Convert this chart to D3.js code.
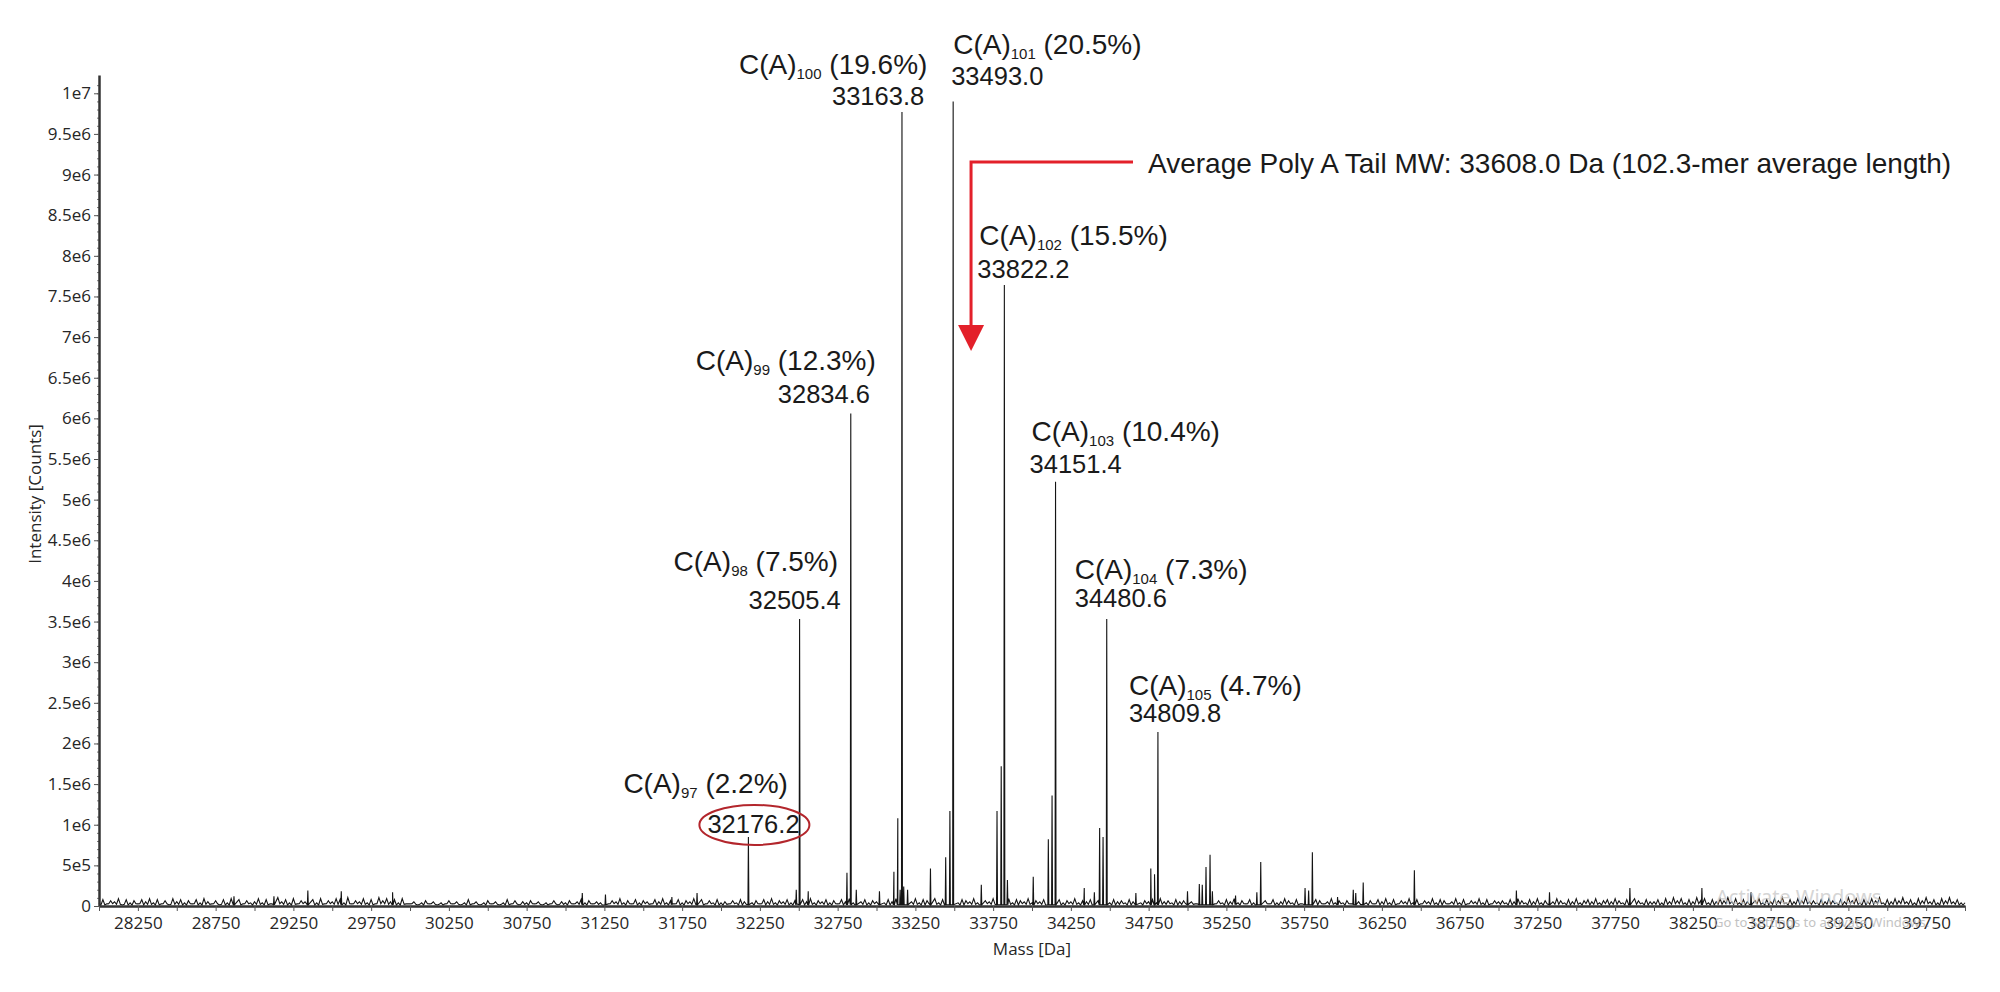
<!DOCTYPE html>
<html>
<head>
<meta charset="utf-8">
<script src="https://cdn.jsdelivr.net/npm/d3@7"></script>
<style>
body { margin: 0; background: #fff; }
svg { display: block; }
</style>
</head>
<body>
<div id="chart"></div>
<script>
// labelled C(A)n peaks
const peakLength = [97, 98, 99, 100, 101, 102, 103, 104, 105]
const peakMass = [32176.2, 32505.4, 32834.6, 33163.8, 33493.0, 33822.2, 34151.4, 34480.6, 34809.8]
const peakShare = [2.2, 7.5, 12.3, 19.6, 20.5, 15.5, 10.4, 7.3, 4.7]
const peakIntensity = [0.85, 3.53, 6.06, 9.77, 9.9, 7.64, 5.22, 3.53, 2.14] // x 1e6 counts

// smaller side peaks
const sideMass = [28868, 29125, 29343, 29558, 29888, 31108, 31257, 31684, 31846,
    32484, 32561, 32810, 32870, 33019, 33112, 33137, 33152, 33175, 33200,
    33347, 33445, 33472, 33674, 33775, 33802, 33842, 34008, 34105, 34129,
    34336, 34401, 34435, 34457, 34668, 34764, 34788, 35000, 35076, 35095, 35119, 35145, 35160,
    35309, 35446, 35471, 35756, 35779, 35803, 35965, 36066, 36082, 36130, 36459,
    37115, 37328, 37845, 38308, 38624]
const sideIntensity = [0.12, 0.12, 0.19, 0.18, 0.17, 0.16, 0.14, 0.11, 0.16,
    0.20, 0.18, 0.41, 0.20, 0.18, 0.42, 1.08, 0.20, 0.24, 0.20,
    0.46, 0.60, 1.17, 0.26, 1.17, 1.72, 0.32, 0.36, 0.82, 1.36,
    0.22, 0.17, 0.96, 0.85, 0.16, 0.46, 0.39, 0.18, 0.27, 0.26, 0.48, 0.63, 0.18,
    0.13, 0.17, 0.54, 0.22, 0.19, 0.66, 0.11, 0.20, 0.16, 0.29, 0.44,
    0.19, 0.17, 0.22, 0.22, 0.17] // x 1e6 counts

// baseline noise, one row per 1000 Da from 28000, each digit x 1.3e4 counts
const noiseRows = [
    "3625471635264736251746352637425163746253",
    "4736258463725486372547638254736285746372",
    "2413524132524136241352413625143524132514",
    "3524635243625473526354264735263547362536",
    "3425364735264735463526473546352647354635",
    "4536475364736547365473654736547364736547",
    "3546354635473546354736453647354637453645",
    "3425364253647352634752634753624736524735",
    "3526473526473625473625473652473625473625",
    "4536475364735647536473564735647536475364",
    "4637485736485736475847364857364758364758",
    "4536475364857364758364758463758463758463"
]

const avgMass = 33608.0
const avgLength = 102.3

const xTickLabels = [28250, 28750, 29250, 29750, 30250, 30750, 31250, 31750, 32250, 32750,
    33250, 33750, 34250, 34750, 35250, 35750, 36250, 36750, 37250, 37750, 38250, 38750, 39250, 39750]

// label placement for each peak (px): number left/baseline vs peak top, label vs number
const numDx = [-41, -51, -73, -70, -2, -27, -26, -32, -29]
const numDy = [-4, -10, -10, -7, -16, -7, -9, -12, -10]
const labDx = [-84, -75, -82, -93, 2, 2, 2, 0, 0]
const labDy = [-40, -38, -33, -31, -31, -33, -32, -28, -27]

const width = 2000, height = 992
const svg = d3.select("#chart").append("svg")
    .attr("width", width)
    .attr("height", height)

const x = d3.scaleLinear().domain([28000, 40000]).range([99, 1965])
const y = d3.scaleLinear().domain([0, 1.0225e7]).range([906, 75])

// --- spectrum trace
let spikes = []
peakMass.forEach((m, i) => spikes.push({m: m, h: peakIntensity[i] * 1e6, hw: 3}))
sideMass.forEach((m, i) => spikes.push({m: m, h: sideIntensity[i] * 1e6, hw: 3}))

// each noise sample drawn as a little spike off a low floor
let pts = []
noiseRows.forEach((row, r) => {
    const step = 1000 / row.length
    row.split('').forEach((c, j) => {
        const m = 28000 + r * 1000 + j * step
        if (spikes.some(s => Math.abs(s.m - m) < 8)) return
        pts.push([m, +c * 1.3e4])
        pts.push([m + step / 2, 1.2e4 + (+c % 3) * 0.8e4])
    })
})
pts.push([40000, 4e4])
spikes.forEach(s => {
    pts.push([s.m - s.hw, 1.5e4], [s.m, s.h], [s.m + s.hw, 1.5e4])
})
pts.sort((a, b) => a[0] - b[0])

const line = d3.line()
    .x(d => x(d[0]))
    .y(d => y(d[1]))

svg.append("path")
    .datum(pts)
    .attr("fill", "none")
    .attr("stroke", "#141414")
    .attr("stroke-width", 1.1)
    .attr("d", line)

// --- axes
const tickFont = "'Open Sans', 'Noto Sans', sans-serif"

const yFmt = v => {
    if (v === 0) return "0"
    const e = Math.floor(Math.log10(v) + 1e-9)
    const mant = +(v / 10 ** e).toFixed(1)
    return mant + "e" + e
}

const yMinor = svg.append("g")
    .attr("transform", "translate(99,0)")
    .call(d3.axisLeft(y).tickValues(d3.range(0, 1.02e7, 1e5)).tickSize(2).tickFormat(""))
yMinor.select(".domain").remove()
yMinor.selectAll("line").attr("stroke", "#777")

const yAxis = svg.append("g")
    .attr("transform", "translate(99,0)")
    .call(d3.axisLeft(y).tickValues(d3.range(0, 1.0e7 + 1, 5e5)).tickSize(5).tickSizeOuter(0).tickPadding(3).tickFormat(yFmt))
yAxis.select(".domain").attr("stroke", "#333").attr("stroke-width", 2.5)
yAxis.selectAll("line").attr("stroke", "#555")
yAxis.selectAll("text")
    .attr("font-family", tickFont)
    .attr("font-size", 17)
    .attr("fill", "#262626")

const xAxis = svg.append("g")
    .attr("transform", "translate(0,906)")
    .call(d3.axisBottom(x).tickValues(d3.range(28000, 40001, 250)).tickSize(5).tickSizeOuter(0).tickPadding(6)
        .tickFormat(d => xTickLabels.includes(d) ? d : ""))
xAxis.select(".domain").attr("stroke", "#333").attr("stroke-width", 2.5)
xAxis.selectAll("line").attr("stroke", "#555")
xAxis.selectAll("text")
    .attr("font-family", tickFont)
    .attr("font-size", 17)
    .attr("fill", "#262626")

svg.append("text")
    .attr("transform", "translate(34,494) rotate(-90)")
    .attr("text-anchor", "middle")
    .attr("dominant-baseline", "central")
    .attr("font-family", tickFont)
    .attr("font-size", 17)
    .attr("fill", "#262626")
    .text("Intensity [Counts]")

svg.append("text")
    .attr("x", 1032)
    .attr("y", 955)
    .attr("text-anchor", "middle")
    .attr("font-family", tickFont)
    .attr("font-size", 17)
    .attr("fill", "#262626")
    .text("Mass [Da]")

// --- peak annotations
const annFont = "'Liberation Sans', Arial, sans-serif"
peakMass.forEach((m, i) => {
    const nx = x(m) + numDx[i]
    const ny = y(peakIntensity[i] * 1e6) + numDy[i]
    svg.append("text")
        .attr("x", nx).attr("y", ny)
        .attr("font-family", annFont)
        .attr("font-size", 25.5)
        .attr("fill", "#1a1a1a")
        .text(m.toFixed(1))

    const lab = svg.append("text")
        .attr("x", nx + labDx[i]).attr("y", ny + labDy[i])
        .attr("font-family", annFont)
        .attr("font-size", 28)
        .attr("fill", "#1a1a1a")
    lab.append("tspan").text("C(A)")
    lab.append("tspan").attr("font-size", 15).attr("dy", 5).text(peakLength[i])
    lab.append("tspan").attr("dy", -5).text(" (" + peakShare[i].toFixed(1) + "%)")

    if (i === 0) {
        svg.append("ellipse")
            .attr("cx", nx + 47).attr("cy", ny - 8)
            .attr("rx", 55).attr("ry", 20)
            .attr("fill", "none")
            .attr("stroke", "#b3262c")
            .attr("stroke-width", 2)
    }
})

// --- average MW arrow
const ax = x(avgMass)
const red = "#e3202a"
svg.append("path")
    .attr("d", `M1133,162 H${ax} V327`)
    .attr("fill", "none")
    .attr("stroke", red)
    .attr("stroke-width", 3)
svg.append("path")
    .attr("d", `M${ax - 13},325 L${ax + 13},325 L${ax},351 Z`)
    .attr("fill", red)
svg.append("text")
    .attr("x", 1148).attr("y", 173)
    .attr("font-family", annFont)
    .attr("font-size", 28)
    .attr("fill", "#1a1a1a")
    .text(`Average Poly A Tail MW: ${avgMass.toFixed(1)} Da (${avgLength}-mer average length)`)

// faint OS watermark seen in the screenshot
svg.append("text")
    .attr("x", 1716).attr("y", 904)
    .attr("font-family", "'Noto Sans', sans-serif")
    .attr("font-size", 20)
    .attr("fill", "#c4c4c4")
    .attr("opacity", 0.7)
    .text("Activate Windows")
svg.append("text")
    .attr("x", 1714).attr("y", 927)
    .attr("font-family", "'Noto Sans', sans-serif")
    .attr("font-size", 13)
    .attr("fill", "#b4b4b4")
    .attr("opacity", 0.8)
    .text("Go to Settings to activate Windows.")
</script>
</body>
</html>
